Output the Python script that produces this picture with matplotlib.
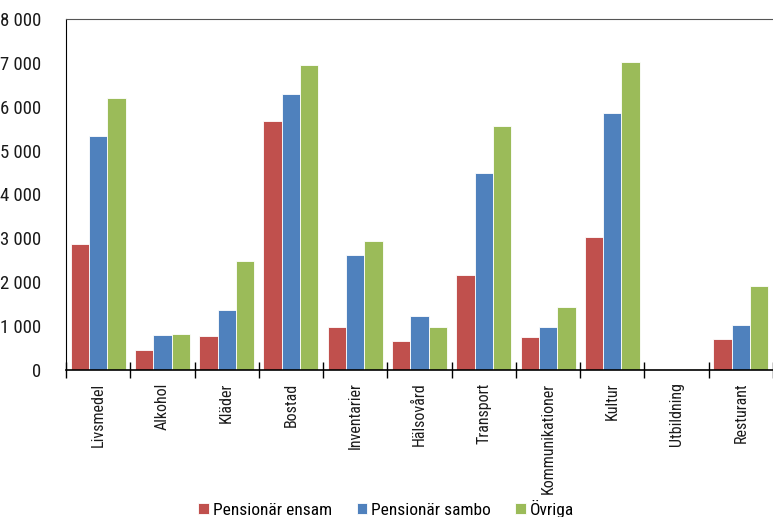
import matplotlib
matplotlib.use("Agg")
import matplotlib.pyplot as plt
import numpy as np

categories = ["Livsmedel", "Alkohol", "Kläder", "Bostad", "Inventarier", "Hälsovård",
              "Transport", "Kommunikationer", "Kultur", "Utbildning", "Resturant"]
ensam = [2866, 456, 775, 5671, 973, 661, 2174, 745, 3025, 0, 714]
sambo = [5329, 791, 1361, 6287, 2623, 1231, 4485, 973, 5853, 0, 1026]
ovriga = [6196, 829, 2478, 6948, 2949, 973, 5564, 1429, 7024, 15, 1909]
series_names = ["Pensionär ensam", "Pensionär sambo", "Övriga"]
colors = ["#C0504D", "#4F81BD", "#9BBB59"]
yticks = list(range(0, 8001, 1000))

plt.rcParams["font.family"] = ["Roboto Condensed", "DejaVu Sans"]

fig = plt.figure(figsize=(7.73, 5.17), dpi=100)
ax = fig.add_axes([66 / 773, 1 - 370 / 517, (773 - 66) / 773, (370 - 19) / 517])

x = np.arange(len(categories))
w = 0.285
for i, (vals, name, c) in enumerate(zip([ensam, sambo, ovriga], series_names, colors)):
    ax.bar(x + (i - 1) * w, vals, width=w, color=c, edgecolor="white", linewidth=0.6,
           label=name)

ax.set_xlim(-0.5, len(categories) - 0.5)
ax.set_ylim(0, 8000)
ax.set_yticks(yticks)
ax.set_yticklabels([f"{v:,}".replace(",", " ") for v in yticks], fontsize=13.5,
                   color="#1a1a1a")
ax.tick_params(axis="y", length=0, pad=18)

ax.set_xticks(x)
ax.set_xticklabels(categories, rotation=90, fontsize=11.5, color="#1a1a1a")
ax.tick_params(axis="x", length=0, pad=9)
ax.set_xticks(np.arange(-0.5, len(categories), 1.0), minor=True)
ax.tick_params(axis="x", which="minor", length=11, direction="inout", width=1)

ax.spines["right"].set_visible(False)
ax.spines["top"].set_color("#555555")
ax.spines["left"].set_color("black")
ax.spines["bottom"].set_color("black")
ax.spines["bottom"].set_linewidth(1.2)

fig.legend(loc="center", bbox_to_anchor=(0.5, 8 / 517), ncol=3, frameon=False,
           fontsize=12.5, handlelength=0.6, handleheight=0.6, handletextpad=0.25,
           columnspacing=1.4, borderpad=0)

fig.savefig("out.png", dpi=100)
